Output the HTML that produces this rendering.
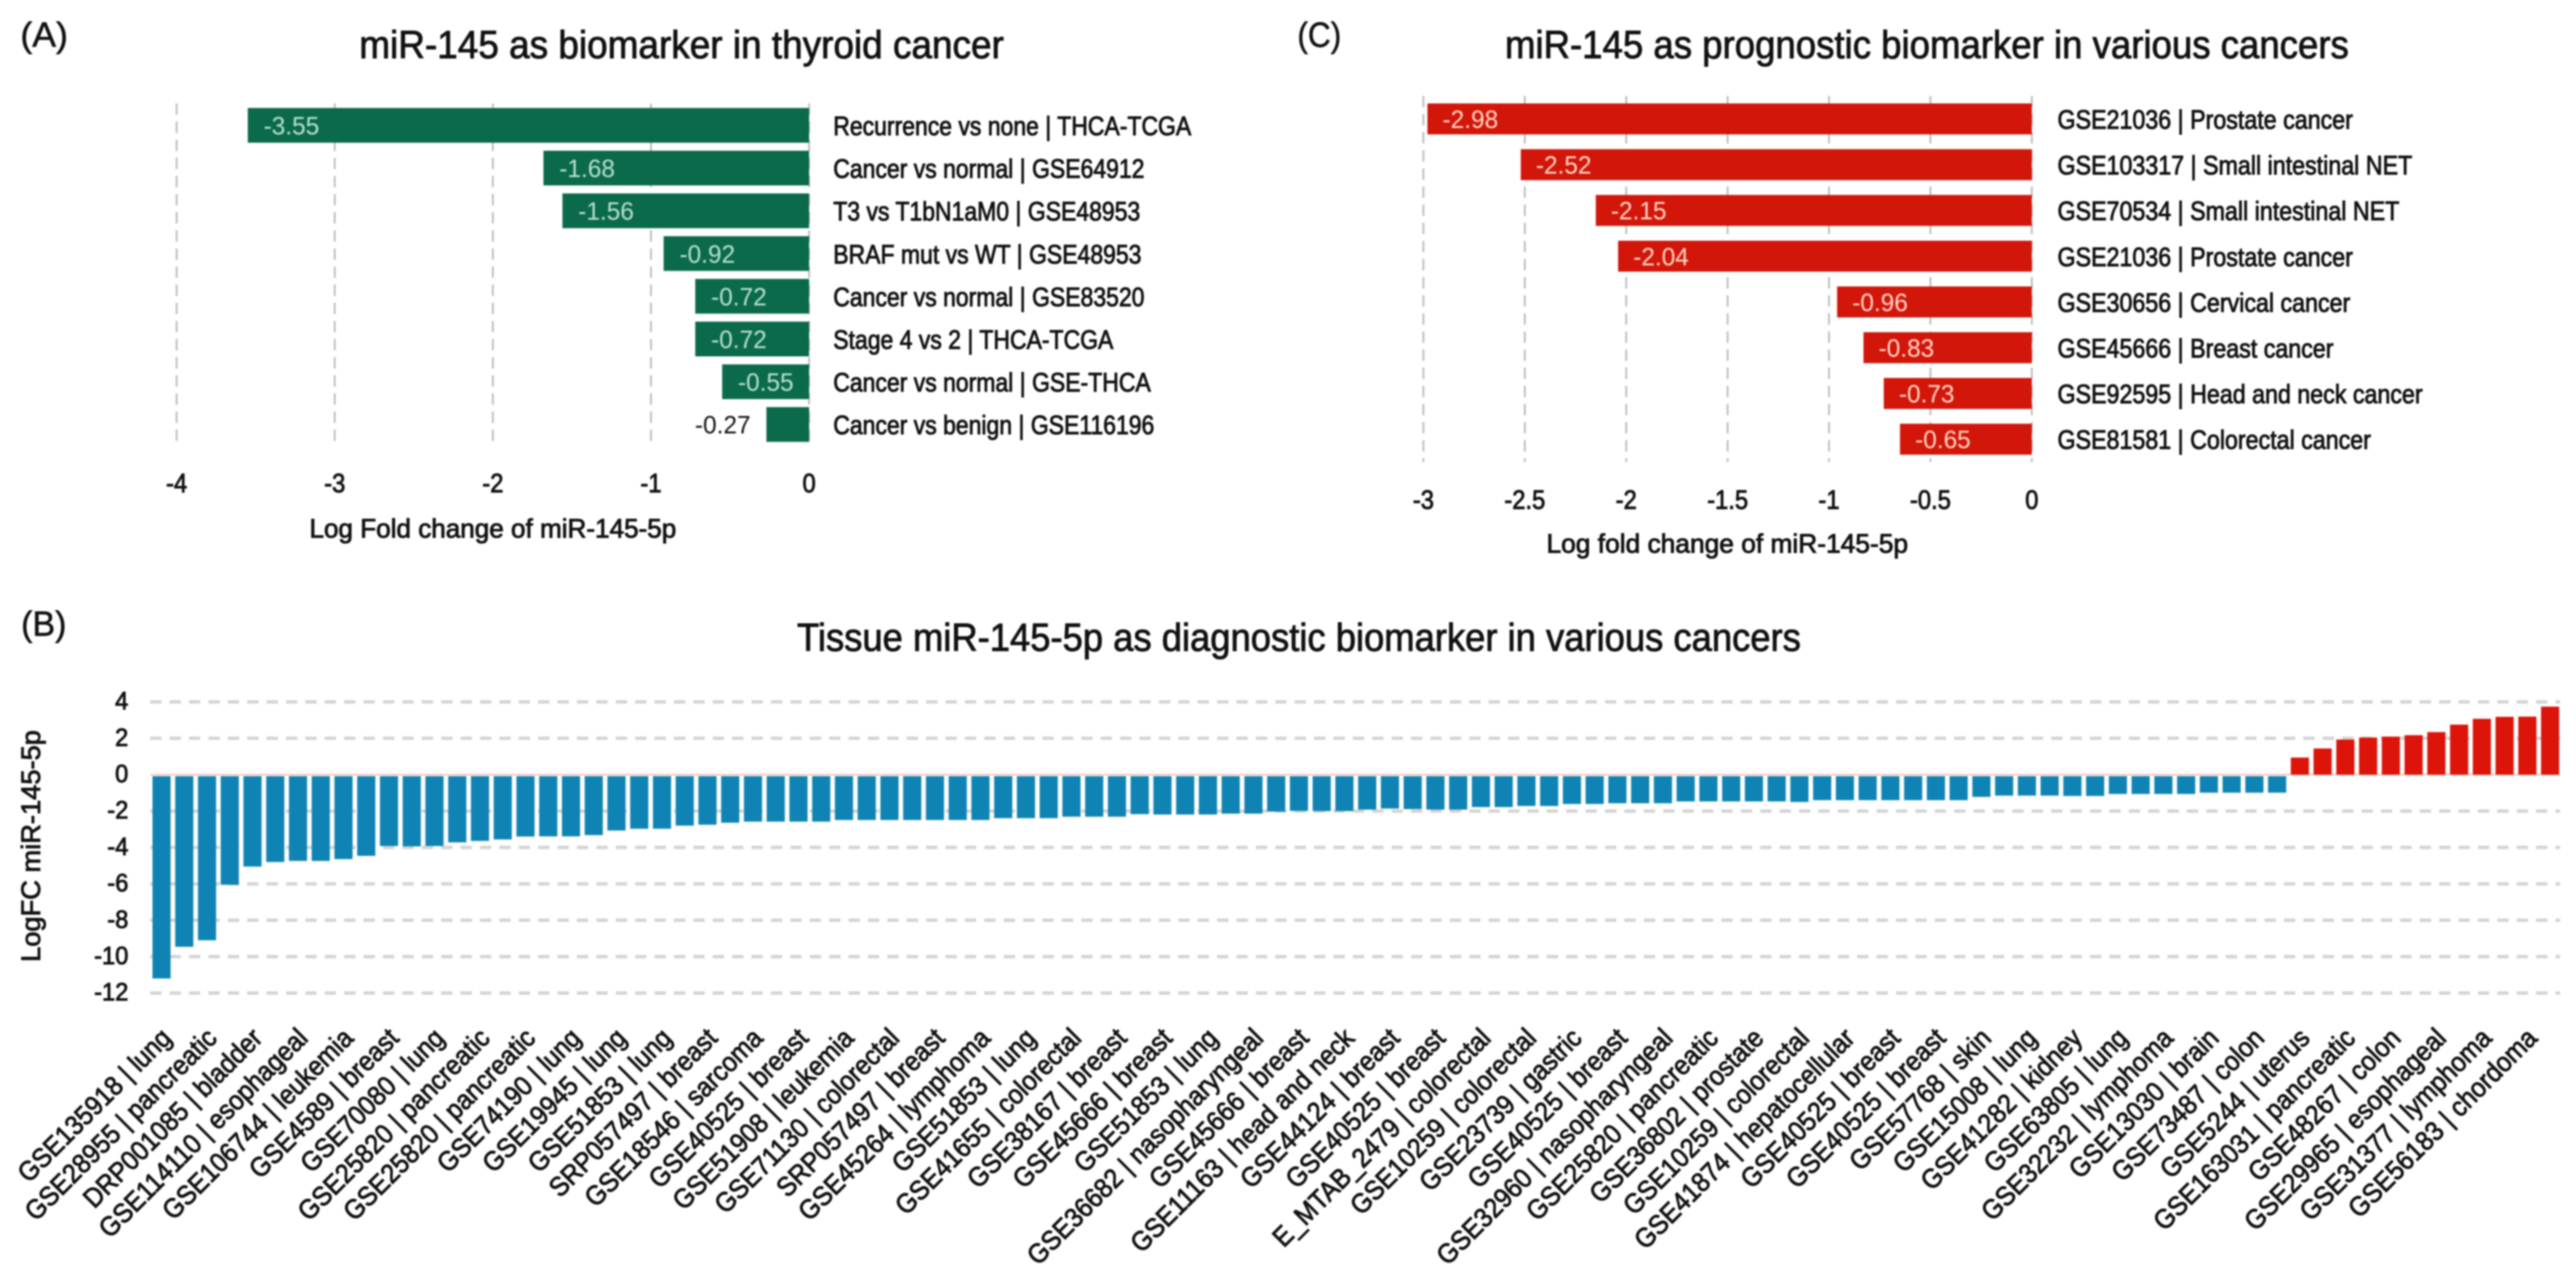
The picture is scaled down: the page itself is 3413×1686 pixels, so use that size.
<!DOCTYPE html>
<html lang="en">
<head>
<meta charset="utf-8">
<title>miR-145 biomarker charts</title>
<style>
html,body{margin:0;padding:0;background:#fff;width:3413px;height:1686px;overflow:hidden}
svg{display:block;filter:blur(1.1px)}
text{font-family:"Liberation Sans",sans-serif;fill:#111}
.ink{stroke:#111;stroke-width:1.1px}
.letter{stroke:#111;stroke-width:.7px}
</style>
</head>
<body>
<svg id="figure" xmlns="http://www.w3.org/2000/svg" width="3413" height="1686" viewBox="0 0 3413 1686">
  <rect width="3413" height="1686" fill="#fff"/>
  <text class="letter" x="27" y="62" font-size="46" textLength="63" lengthAdjust="spacingAndGlyphs">(A)</text>
  <text class="letter" x="1719" y="62" font-size="46" textLength="58" lengthAdjust="spacingAndGlyphs">(C)</text>
  <text class="letter" x="28" y="842" font-size="46" textLength="60" lengthAdjust="spacingAndGlyphs">(B)</text>
  <text class="ink" x="476" y="77" font-size="52" textLength="854" lengthAdjust="spacingAndGlyphs">miR-145 as biomarker in thyroid cancer</text>
  <text class="ink" x="1994" y="77" font-size="52" textLength="1118" lengthAdjust="spacingAndGlyphs">miR-145 as prognostic biomarker in various cancers</text>
  <text class="ink" x="1056" y="862" font-size="52" textLength="1330" lengthAdjust="spacingAndGlyphs">Tissue miR-145-5p as diagnostic biomarker in various cancers</text>
  <text class="ink" x="410" y="712" font-size="35" textLength="486" lengthAdjust="spacingAndGlyphs">Log Fold change of miR-145-5p</text>
  <text class="ink" x="2049" y="732" font-size="35" textLength="479" lengthAdjust="spacingAndGlyphs">Log fold change of miR-145-5p</text>
  <text class="ink" transform="translate(53,1274) rotate(-90)" font-size="35" textLength="307" lengthAdjust="spacingAndGlyphs">LogFC miR-145-5p</text>
  <g id="panelA"></g>
  <g id="panelC"></g>
  <g id="panelB"></g>
</svg>
<script>
const panelACategories = ["Recurrence vs none | THCA-TCGA","Cancer vs normal | GSE64912","T3 vs T1bN1aM0 | GSE48953","BRAF mut vs WT | GSE48953","Cancer vs normal | GSE83520","Stage 4 vs 2 | THCA-TCGA","Cancer vs normal | GSE-THCA","Cancer vs benign | GSE116196"];
const panelAValues = [-3.55,-1.68,-1.56,-0.92,-0.72,-0.72,-0.55,-0.27];
const panelATicks = [-4,-3,-2,-1,0];

const panelCCategories = ["GSE21036 | Prostate cancer","GSE103317 | Small intestinal NET","GSE70534 | Small intestinal NET","GSE21036 | Prostate cancer","GSE30656 | Cervical cancer","GSE45666 | Breast cancer","GSE92595 | Head and neck cancer","GSE81581 | Colorectal cancer"];
const panelCValues = [-2.98,-2.52,-2.15,-2.04,-0.96,-0.83,-0.73,-0.65];
const panelCTicks = [-3,-2.5,-2,-1.5,-1,-0.5,0];

const panelBCategories = ["GSE135918 | lung","GSE28955 | pancreatic","DRP001085 | bladder","GSE114110 | esophageal","GSE106744 | leukemia","GSE4589 | breast","GSE70080 | lung","GSE25820 | pancreatic","GSE25820 | pancreatic","GSE74190 | lung","GSE19945 | lung","GSE51853 | lung","SRP057497 | breast","GSE18546 | sarcoma","GSE40525 | breast","GSE51908 | leukemia","GSE71130 | colorectal","SRP057497 | breast","GSE45264 | lymphoma","GSE51853 | lung","GSE41655 | colorectal","GSE38167 | breast","GSE45666 | breast","GSE51853 | lung","GSE36682 | nasopharyngeal","GSE45666 | breast","GSE11163 | head and neck","GSE44124 | breast","GSE40525 | breast","E_MTAB_2479 | colorectal","GSE10259 | colorectal","GSE23739 | gastric","GSE40525 | breast","GSE32960 | nasopharyngeal","GSE25820 | pancreatic","GSE36802 | prostate","GSE10259 | colorectal","GSE41874 | hepatocellular","GSE40525 | breast","GSE40525 | breast","GSE57768 | skin","GSE15008 | lung","GSE41282 | kidney","GSE63805 | lung","GSE32232 | lymphoma","GSE13030 | brain","GSE73487 | colon","GSE5244 | uterus","GSE163031 | pancreatic","GSE48267 | colon","GSE29965 | esophageal","GSE31377 | lymphoma","GSE56183 | chordoma"];
const panelBValues = [-11.2,-9.46,-9.1,-6.05,-5.05,-4.8,-4.74,-4.74,-4.64,-4.46,-3.92,-3.94,-3.92,-3.72,-3.64,-3.56,-3.4,-3.39,-3.39,-3.32,-3.07,-2.97,-2.97,-2.8,-2.75,-2.64,-2.58,-2.58,-2.58,-2.58,-2.49,-2.49,-2.49,-2.49,-2.49,-2.49,-2.49,-2.39,-2.39,-2.39,-2.31,-2.31,-2.31,-2.17,-2.19,-2.19,-2.19,-2.14,-2.14,-2.03,-1.99,-2.0,-2.0,-1.92,-1.86,-1.89,-1.92,-1.92,-1.78,-1.78,-1.72,-1.72,-1.61,-1.61,-1.57,-1.57,-1.57,-1.47,-1.47,-1.47,-1.47,-1.47,-1.5,-1.4,-1.4,-1.4,-1.4,-1.4,-1.4,-1.4,-1.22,-1.15,-1.15,-1.15,-1.17,-1.17,-1.06,-1.06,-1.06,-1.06,-0.99,-0.99,-0.99,-0.99,0.94,1.44,1.93,2.04,2.09,2.17,2.34,2.75,3.07,3.18,3.19,3.74];
const panelBTicks = [4,2,0,-2,-4,-6,-8,-10,-12];

const SVGNS = 'http://www.w3.org/2000/svg';
function make(parent, tag, attrs, content) {
  const el = document.createElementNS(SVGNS, tag);
  for (const k in attrs) el.setAttribute(k, attrs[k]);
  if (content !== undefined) el.textContent = content;
  parent.appendChild(el);
  return el;
}

/* Horizontal bar panels (A and C) */
function drawHorizontal(group, cfg, categories, values, ticks) {
  const xAt = v => cfg.x0 + v * cfg.unit;
  const yAt = i => cfg.yStart + cfg.pitch * i;
  ticks.forEach(t => {
    const line = make(group, 'line', {x1: xAt(t), x2: xAt(t), y1: cfg.gridTop, y2: cfg.gridBottom, stroke: '#bdbdbd', 'stroke-width': 2.5, 'stroke-dasharray': cfg.dash});
    
    
    const label = make(group, 'text', {transform: `translate(${xAt(t)},${cfg.tickY}) scale(.9,1)`, 'text-anchor': 'middle', 'font-size': 35, class: 'ink'}, String(t));
    
    
  });
  values.forEach((v, i) => {
    const left = xAt(v);
    const bar = make(group, 'rect', {x: left, y: yAt(i), width: cfg.x0 - left, height: cfg.barH, fill: cfg.color});
    
    
    const inside = Math.abs(v) >= 0.3;
    const tx = inside ? left + cfg.inset : left - 21;
    const value = make(group, 'text', {transform: `translate(${tx},${yAt(i) + cfg.barH / 2 + 12}) scale(.98,1)`, 'font-size': 33, 'text-anchor': inside ? 'start' : 'end'}, v.toFixed(2));
    value.style.fill = inside ? cfg.valueColor : '#111';
    
    
    const cat = make(group, 'text', {transform: `translate(${cfg.labelX},${yAt(i) + cfg.barH / 2 + 13}) scale(${cfg.labelScale},1)`, 'font-size': 35, class: 'ink'}, categories[i]);
    
    
  });
}

drawHorizontal(document.getElementById('panelA'), {
  x0: 1072, unit: 209.5, yStart: 143, pitch: 56.6, barH: 46, gridTop: 137, gridBottom: 592,
  dash: '15 9', tickY: 652, color: '#0b6a4b', valueColor: '#b9e2d2', inset: 21, labelX: 1104, labelScale: .87
}, panelACategories, panelAValues, panelATicks);

drawHorizontal(document.getElementById('panelC'), {
  x0: 2692, unit: 268.7, yStart: 137, pitch: 60.6, barH: 41, gridTop: 127, gridBottom: 612,
  dash: '15 9', tickY: 674, color: '#d2160a', valueColor: '#ffd8c6', inset: 20, labelX: 2726, labelScale: .88
}, panelCCategories, panelCValues, panelCTicks);

/* Vertical bar panel (B) */
(function () {
  const group = document.getElementById('panelB');
  const yAt = v => 1026 - v * 24.1;
  const barLeft = i => 202 + 30.14 * i;
  const barW = 24;
  panelBTicks.forEach(t => {
    if (t !== 0) {
      const line = make(group, 'line', {x1: 199, x2: 3392, y1: yAt(t), y2: yAt(t), stroke: '#d4d4d4', 'stroke-width': 4.5, 'stroke-dasharray': '15 10.7'});
      
      
    }
    const label = make(group, 'text', {transform: `translate(170,${yAt(t) + 10}) scale(.95,1)`, 'text-anchor': 'end', 'font-size': 33, class: 'ink'}, String(t));
    
    
  });
  const zero = make(group, 'line', {x1: 199, x2: 3392, y1: yAt(0), y2: yAt(0), stroke: '#f3cdc6', 'stroke-width': 2.5});
  
  
  panelBValues.forEach((v, i) => {
    const top = v < 0 ? yAt(0) + 2 : yAt(v);
    const bottom = v < 0 ? yAt(v) : yAt(0);
    const bar = make(group, 'rect', {x: barLeft(i), y: top, width: barW, height: bottom - top, fill: v < 0 ? '#0f84b4' : '#dc1409'});
    
    
  });
  panelBCategories.forEach((c, i) => {
    const x = barLeft(i * 2) + barW / 2 + 15;
    const label = make(group, 'text', {transform: `translate(${x},1377) rotate(-45) scale(.92,1)`, 'text-anchor': 'end', 'font-size': 36, class: 'ink'}, c);
    
    
  });
})();
</script>
</body>
</html>
